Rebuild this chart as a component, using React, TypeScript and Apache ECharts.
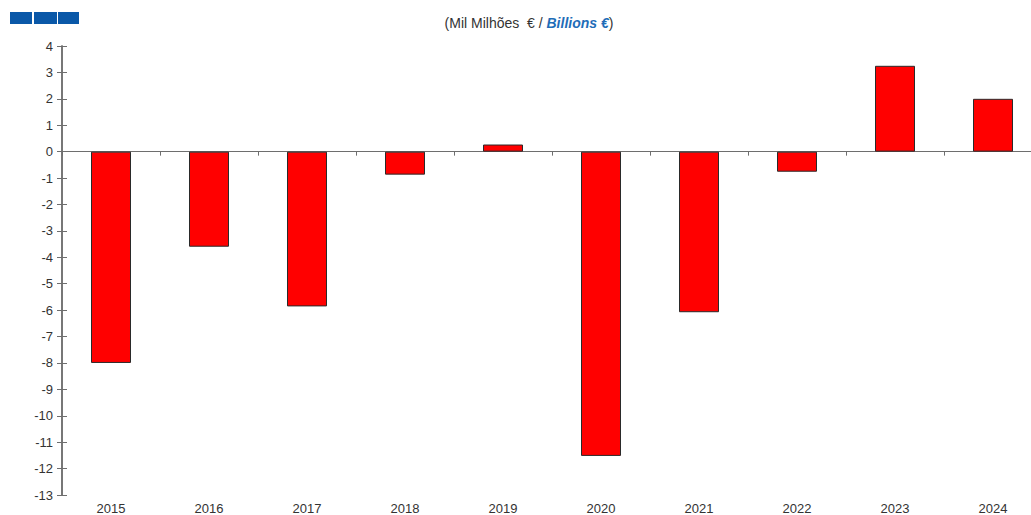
import React, { useEffect, useRef } from "react";
import * as echarts from "echarts";

const years = ["2015", "2016", "2017", "2018", "2019", "2020", "2021", "2022", "2023", "2024"];
const values = [-8.0, -3.6, -5.86, -0.87, 0.27, -11.52, -6.08, -0.76, 3.25, 2.0];
const yMin = -13;
const yMax = 4;

export default function App() {
  const ref = useRef<HTMLDivElement>(null);
  useEffect(() => {
    if (!ref.current) return;
    const chart = echarts.init(ref.current, undefined, { renderer: "svg" });
    const axisColor = "#6e6e6e";
    const labelColor = "#333333";
    const font = "'Liberation Sans', Arial, sans-serif";
    chart.setOption({
      animation: false,
      backgroundColor: "#ffffff",
      title: {
        text: "{a|(Mil Milhões  € / }{b|Billions €}{a|)}",
        left: 524,
        top: 11,
        textAlign: "center",
        textStyle: {
          rich: {
            a: { fontSize: 14, color: "#333333", fontFamily: font, fontWeight: "normal" },
            b: { fontSize: 14, color: "#1f6db8", fontFamily: font, fontStyle: "italic", fontWeight: "bold" },
          },
        },
      },
      graphic: [
        { type: "rect", shape: { x: 10, y: 12, width: 22, height: 12 }, style: { fill: "#0a58a8" } },
        { type: "rect", shape: { x: 34, y: 12, width: 23, height: 12 }, style: { fill: "#0a58a8" } },
        { type: "rect", shape: { x: 58, y: 12, width: 21, height: 12 }, style: { fill: "#0a58a8" } },
      ],
      grid: { left: 62, top: 46, right: 0, bottom: 19, containLabel: false },
      xAxis: [
        {
          type: "category",
          data: years,
          axisLine: { onZero: true, lineStyle: { color: axisColor, width: 1 } },
          axisTick: { show: true, length: 4, inside: false, alignWithLabel: false, lineStyle: { color: axisColor } },
          axisLabel: { show: false },
        },
        {
          type: "category",
          data: years,
          position: "bottom",
          axisLine: { show: false },
          axisTick: { show: false },
          axisLabel: { show: true, color: labelColor, fontSize: 13, fontFamily: font, margin: 7 },
        },
      ],
      yAxis: [
        {
          type: "value",
          min: yMin,
          max: yMax,
          interval: 1,
          axisLine: { show: true, lineStyle: { color: axisColor, width: 1.5 } },
          axisTick: { show: true, length: 5, inside: false, lineStyle: { color: axisColor } },
          axisLabel: { color: labelColor, fontSize: 13, fontFamily: font, margin: 9 },
          splitLine: { show: false },
        },
        {
          type: "value",
          min: yMin,
          max: yMax,
          interval: 1,
          position: "left",
          offset: 0,
          axisLine: { show: true, onZero: false, lineStyle: { color: axisColor, width: 1.5 } },
          axisTick: { show: true, length: 5, inside: true, lineStyle: { color: axisColor } },
          axisLabel: { show: false },
          splitLine: { show: false },
        },
      ],
      series: [
        {
          type: "bar",
          xAxisIndex: 0,
          yAxisIndex: 0,
          data: values,
          barWidth: 40,
          itemStyle: { color: "#ff0000", borderColor: "#2a2a2a", borderWidth: 1 },
        },
      ],
    });
    return () => chart.dispose();
  }, []);
  return (
    <div style={{ position: "fixed", left: 0, top: 0, width: 1031, height: 515, overflow: "hidden", background: "#fff" }}>
      <div ref={ref} style={{ width: 1042, height: 515 }} />
    </div>
  );
}
